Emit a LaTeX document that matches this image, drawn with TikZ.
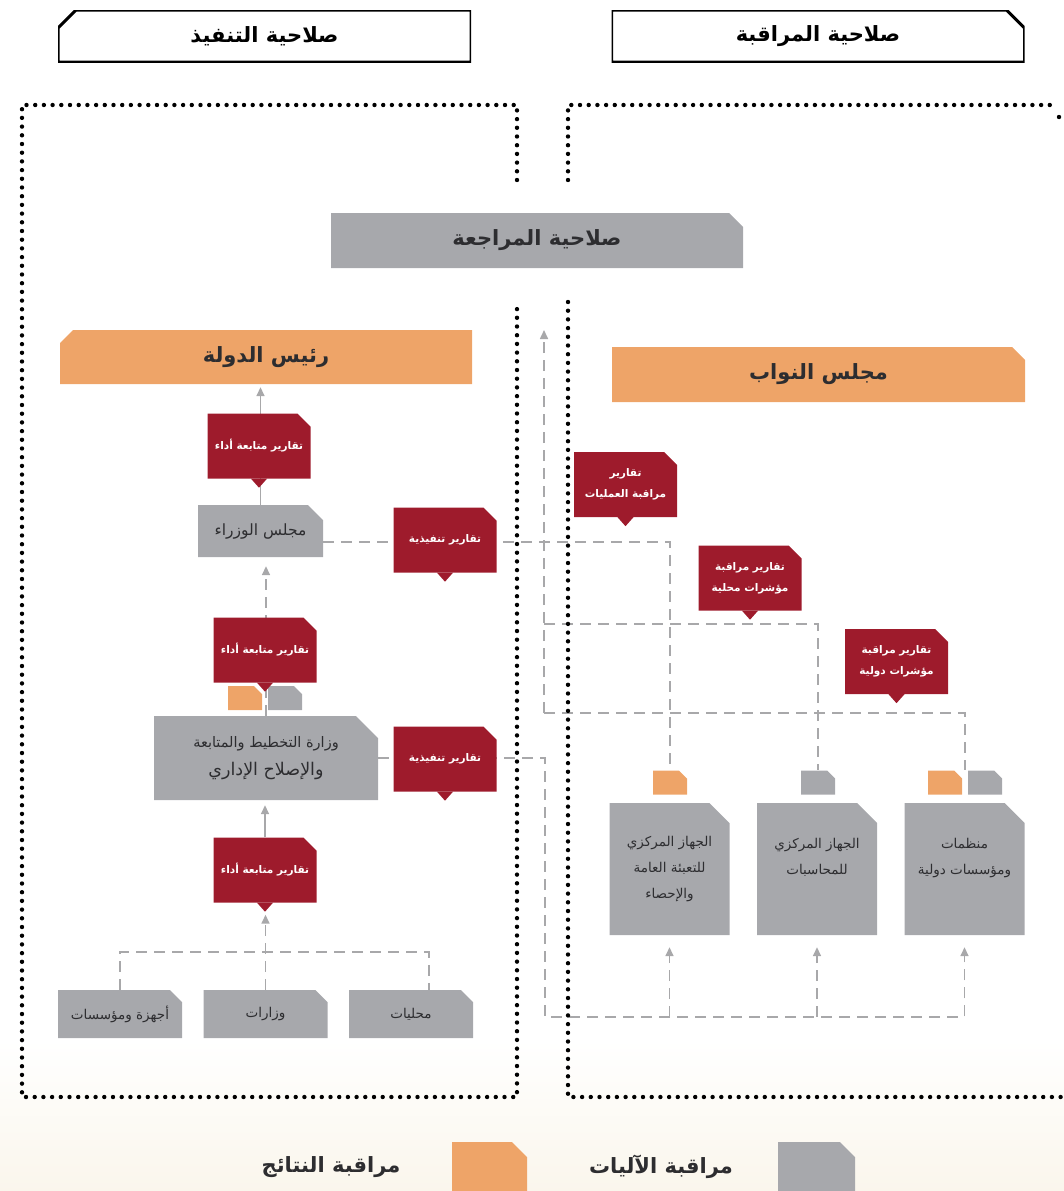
\documentclass[tikz,border=0pt]{standalone}
\usepackage{fontspec}
\usetikzlibrary{arrows.meta,calc}
\TeXXeTstate=1
\newfontfamily\arabicfont[Script=Arabic]{DejaVu Sans}
\newcommand{\artxt}[1]{\beginR #1\endR}

\definecolor{repred}{RGB}{158,27,44}
\definecolor{resorange}{RGB}{238,164,104}
\definecolor{mechgray}{RGB}{167,168,172}
\definecolor{linegray}{RGB}{168,168,170}
\definecolor{boxtext}{RGB}{45,45,48}
\definecolor{cream}{RGB}{250,246,236}

\pgfdeclarelayer{bg}
\pgfsetlayers{bg,main}

\tikzset{
  % filled outline with the top right (cutne) or top left (cutnw) corner cut off
  cutne/.style 2 args={path picture={\path[#1]
    (path picture bounding box.south west) -- (path picture bounding box.south east)
    -- ([yshift=-#2]path picture bounding box.north east)
    -- ([xshift=-#2]path picture bounding box.north east)
    -- (path picture bounding box.north west) -- cycle;}},
  cutnw/.style 2 args={path picture={\path[#1]
    (path picture bounding box.south east) -- (path picture bounding box.south west)
    -- ([yshift=-#2]path picture bounding box.north west)
    -- ([xshift=#2]path picture bounding box.north west)
    -- (path picture bounding box.north east) -- cycle;}},
  headbox/.style={minimum width=413pt, minimum height=52pt, inner sep=0pt,
    font=\arabicfont\bfseries\fontsize{21}{24}\selectfont},
  bigbox/.style={inner sep=0pt, text=boxtext,
    font=\arabicfont\bfseries\fontsize{21}{24}\selectfont},
  unit/.style={cutne={fill=mechgray}{15pt}, inner sep=0pt,
    text=boxtext, align=center, font=\arabicfont\fontsize{15.5}{28}\selectfont},
  tall/.style={unit, cutne={fill=mechgray}{20pt}, minimum width=120pt, minimum height=132pt,
    font=\arabicfont\fontsize{13.5}{26}\selectfont},
  low/.style={unit, cutne={fill=mechgray}{12pt}, minimum width=124pt, minimum height=48pt,
    font=\arabicfont\fontsize{13.5}{16}\selectfont},
  report/.style={cutne={fill=repred}{13pt}, text=white,
    minimum width=103pt, minimum height=65pt, inner sep=0pt, align=center,
    font=\arabicfont\bfseries\fontsize{10.5}{21}\selectfont},
  tag/.style={minimum width=34pt, minimum height=24pt, inner sep=0pt},
  legtext/.style={text=boxtext, font=\arabicfont\bfseries\fontsize{21}{24}\selectfont},
  conn/.style={draw=linegray, line width=1.6pt},
  dashconn/.style={conn, dash pattern=on 11pt off 7pt},
  arr/.style={-{Triangle[width=8pt,length=9pt]}},
  dotline/.style={draw=black, line width=4.4pt, line cap=round,
    dash pattern=on 0pt off 8.7pt}
}

\begin{document}
\begin{tikzpicture}[x=1pt, y=-1pt]
\useasboundingbox (0,0) rectangle (1064,1191);

% headers
\node[headbox, cutnw={fill=white, draw=black, line width=3pt}{18pt}] (execpow) at (264.5,36) {\artxt{صلاحية التنفيذ}};
\node[headbox, cutne={fill=white, draw=black, line width=3pt}{18pt}] (monpow) at (818,36) {\artxt{صلاحية المراقبة}};

% dotted frames
\draw[dotline] (517,180) -- (517,105) -- (22,105) -- (22,1097) -- (517,1097) -- (517,302);
\draw[dotline] (568,180) -- (568,105) -- (1050,105);
\draw[dotline] (568,302) -- (568,1097) -- (1064,1097);
\fill (1059,117) circle (2.2pt);

\node[bigbox, cutne={fill=mechgray}{14pt}, minimum width=412pt, minimum height=55pt] (revpow) at (537,240.5) {\artxt{صلاحية المراجعة}};
\node[bigbox, cutnw={fill=resorange}{13pt}, minimum width=412pt, minimum height=54pt] (head) at (266,357) {\artxt{رئيس الدولة}};
\node[bigbox, cutne={fill=resorange}{13pt}, minimum width=413pt, minimum height=55pt] (parl) at (818.5,374.5) {\artxt{مجلس النواب}};

% executive side
\node[unit, minimum width=125pt, minimum height=52pt] (cabinet) at (260.5,531) {\artxt{مجلس الوزراء}};
\node[unit, cutne={fill=mechgray}{22pt}, minimum width=224pt, minimum height=84pt] (planning) at (266,758)
  {{\fontsize{14.5}{28}\selectfont\artxt{وزارة التخطيط والمتابعة}}\\{\fontsize{17.5}{28}\selectfont\artxt{والإصلاح الإداري}}};
\node[tag, cutne={fill=resorange}{8pt}] (pi1) at (245,698) {};
\node[tag, cutne={fill=mechgray}{8pt}] (pi2) at (285,698) {};
\node[low] (agencies) at (120,1014) {\artxt{أجهزة ومؤسسات}};
\node[low] (ministries) at (265.5,1014) {\artxt{وزارات}};
\node[low] (locals) at (411,1014) {\artxt{محليات}};

% monitoring side
\node[tall] (csb) at (669.5,869) {\artxt{الجهاز المركزي}\\\artxt{للتعبئة العامة}\\\artxt{والإحصاء}};
\node[tall] (acc) at (817,869) {\artxt{الجهاز المركزي}\\\artxt{للمحاسبات}\\\mbox{}};
\node[tall] (intl) at (964.5,869) {\artxt{منظمات}\\\artxt{ومؤسسات دولية}\\\mbox{}};
\node[tag, cutne={fill=resorange}{8pt}] (ri1) at (670,782.5) {};
\node[tag, cutne={fill=mechgray}{8pt}] (ri2) at (818,782.5) {};
\node[tag, cutne={fill=resorange}{8pt}] (ri3) at (945,782.5) {};
\node[tag, cutne={fill=mechgray}{8pt}] (ri4) at (985,782.5) {};

% reports
\node[report] (perf1) at (259,446) {\artxt{تقارير متابعة أداء}};
\node[report] (perf2) at (265,650) {\artxt{تقارير متابعة أداء}};
\node[report] (perf3) at (265,870) {\artxt{تقارير متابعة أداء}};
\node[report] (exec1) at (445,540) {\artxt{تقارير تنفيذية}};
\node[report] (exec2) at (445,759) {\artxt{تقارير تنفيذية}};
\node[report] (opsrep) at (625.5,484.5) {\artxt{تقارير}\\\artxt{مراقبة العمليات}};
\node[report] (locrep) at (750,578) {\artxt{تقارير مراقبة}\\\artxt{مؤشرات محلية}};
\node[report] (intrep) at (896.5,661.5) {\artxt{تقارير مراقبة}\\\artxt{مؤشرات دولية}};
\foreach \r in {perf1,perf2,perf3,exec1,exec2,opsrep,locrep,intrep}
  \fill[repred] ([xshift=-8pt]\r.south) -- ([xshift=8pt]\r.south) -- ([yshift=-9pt]\r.south) -- cycle;

% legend
\node[tag, cutne={fill=resorange}{15pt}, minimum width=75pt, minimum height=60pt] (legres) at (489.5,1172) {};
\node[tag, cutne={fill=mechgray}{15pt}, minimum width=77pt, minimum height=60pt] (legmech) at (816.5,1172) {};
\node[legtext] (legrestxt) at (331,1167) {\artxt{مراقبة النتائج}};
\node[legtext] (legmechtxt) at (661,1167) {\artxt{مراقبة الآليات}};

\coordinate (revin) at (544,330);
\coordinate (tapl) at (544,624);
\coordinate (tapi) at (544,713);
\coordinate (bus) at (545,1017);

\begin{pgfonlayer}{bg}
  \fill[top color=white, bottom color=cream] (0,1040) rectangle (1064,1191);
  % performance chain
  \draw[conn, arr, shorten >=3pt] (cabinet.north) -- (cabinet.north |- head.south);
  \draw[dashconn, arr, shorten >=9pt] (planning.north) -- (planning.north |- cabinet.south);
  \draw[conn, arr, shorten >=5pt] (perf3.north) -- (perf3.north |- planning.south);
  \draw[dashconn, arr, shorten >=12pt] (ministries.north) -- (ministries.north |- perf3.south);
  \draw[dashconn] (agencies.north) -- ++(0,-38) -| ([xshift=18pt]locals.north);
  % execution reports
  \draw[dashconn] ([yshift=-11pt]cabinet.east) -| (ri1.north);
  \draw[dashconn, arr, shorten >=12pt] (planning.east) -| (bus) -| (intl.south);
  \draw[dashconn, arr, shorten >=12pt] (csb.south |- bus) -- (csb.south);
  \draw[dashconn, arr, shorten >=12pt] (acc.south |- bus) -- (acc.south);
  % monitoring reports
  \draw[dashconn, arr] (tapi) -- (revin);
  \draw[dashconn] (tapl) -| (ri2.north);
  \draw[dashconn] (tapi) -| ($(ri3.north)!.5!(ri4.north)$);
\end{pgfonlayer}
\end{tikzpicture}
\end{document}
